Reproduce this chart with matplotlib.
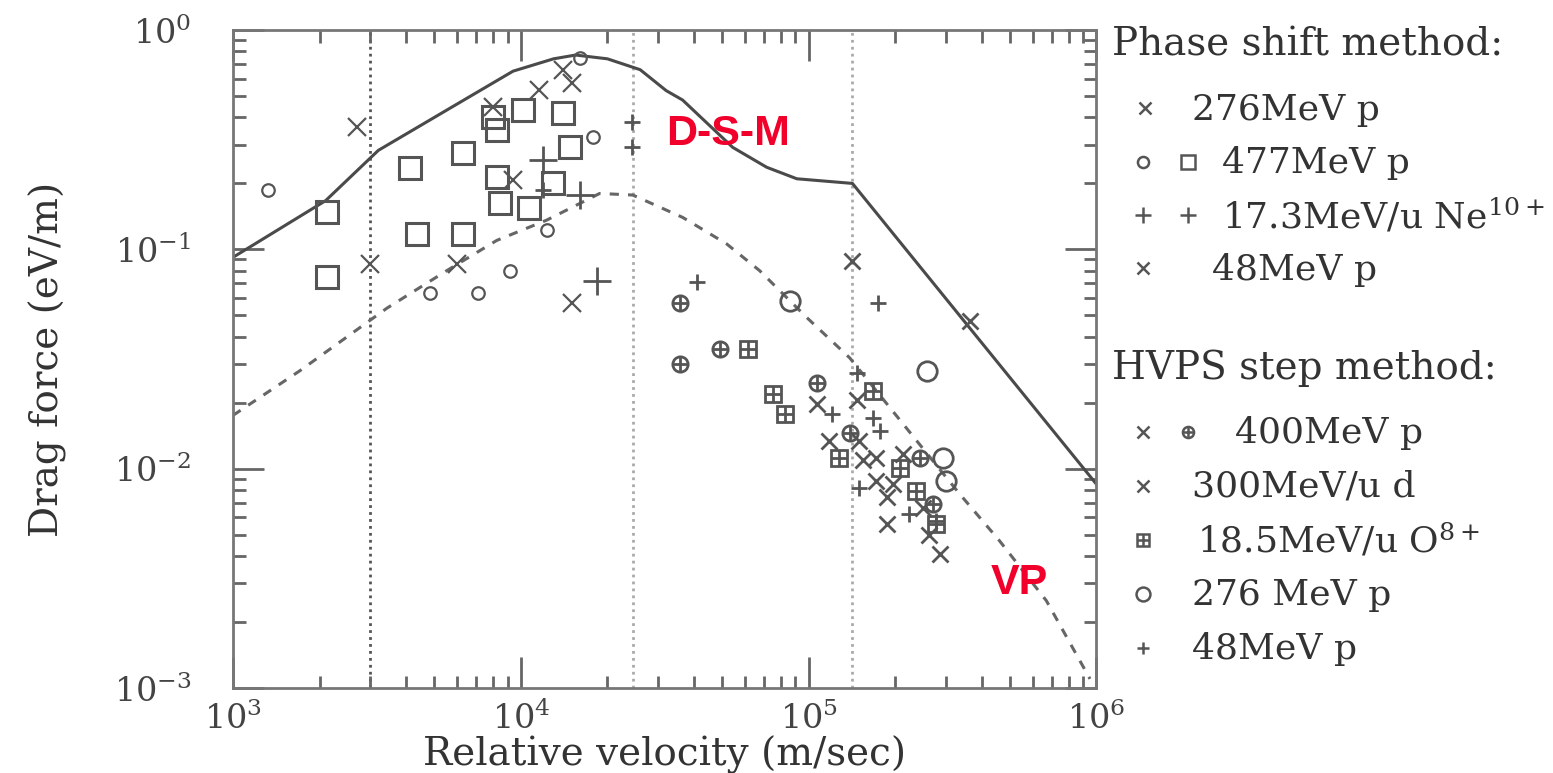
import numpy as np
import matplotlib.pyplot as plt
from matplotlib.ticker import LogLocator, NullFormatter

plt.rcParams['font.family'] = ['DejaVu Serif']
plt.rcParams['mathtext.fontset'] = 'dejavuserif'

# theory curves (velocity m/s, drag force eV/m)
dsm_v = [1e3, 2.1e3, 3.2e3, 5.5e3, 9.4e3, 1.3e4, 1.55e4, 2.0e4, 2.6e4, 3.2e4,
         3.65e4, 5.45e4, 7.15e4, 9.1e4, 1.42e5, 1e6]
dsm_f = [0.092, 0.167, 0.283, 0.43, 0.65, 0.74, 0.77, 0.74, 0.66, 0.53,
         0.48, 0.292, 0.237, 0.21, 0.20, 0.0085]
vp_v = [1e3, 1.71e3, 3.43e3, 5.53e3, 8.26e3, 1.23e4, 1.88e4, 2.45e4, 3.65e4,
        5.19e4, 6.76e4, 9.84e4, 1.39e5, 3.34e5, 4.6e5, 6.7e5, 9.5e5]
vp_f = [0.0175, 0.028, 0.054, 0.080, 0.11, 0.136, 0.18, 0.177, 0.14,
        0.106, 0.080, 0.049, 0.032, 0.0077, 0.0047, 0.0025, 0.0011]
vlines = [3e3, 2.45e4, 1.42e5]

# phase shift method
ps276_v = [2.7e3, 8.0e3, 9.4e3, 1.16e4, 1.4e4, 1.51e4]
ps276_f = [0.36, 0.445, 0.207, 0.532, 0.656, 0.573]
ps477d_v = [1.32e3, 4.83e3, 7.1e3, 9.2e3, 1.23e4, 1.78e4, 1.6e4]
ps477d_f = [0.186, 0.063, 0.063, 0.08, 0.122, 0.325, 0.75]
ps477s_v = [2.12e3, 2.12e3, 4.12e3, 4.35e3, 6.3e3, 6.3e3, 8.0e3, 1.02e4, 1.4e4,
            1.48e4, 8.26e3, 1.29e4, 8.45e3, 1.07e4, 8.26e3]
ps477s_f = [0.148, 0.0745, 0.234, 0.118, 0.118, 0.274, 0.40, 0.431, 0.418,
            0.292, 0.213, 0.20, 0.162, 0.155, 0.35]
ne_small_v = [2.43e4, 2.43e4, 1.19e4]
ne_small_f = [0.38, 0.292, 0.186]
ne_big_v = [1.84e4, 1.19e4, 1.6e4]
ne_big_f = [0.072, 0.255, 0.177]
ps48_v = [2.99e3, 6.0e3, 1.51e4]
ps48_f = [0.086, 0.086, 0.057]

# HVPS step method
h400x_v = [1.07e5, 1.5e5, 2.12e5, 1.72e5, 2.49e5, 1.87e5, 2.85e5, 1.72e5]
h400x_f = [0.0198, 0.0134, 0.0117, 0.0088, 0.0066, 0.0056, 0.0041, 0.0112]
h400o_v = [3.57e4, 3.57e4, 4.91e4, 1.07e5, 1.39e5, 2.43e5, 2.7e5]
h400o_f = [0.057, 0.030, 0.035, 0.0247, 0.0145, 0.0112, 0.0069]
h300_v = [1.42e5, 1.47e5, 1.18e5, 1.54e5, 1.96e5, 1.87e5, 2.63e5, 3.63e5]
h300_f = [0.089, 0.0205, 0.0134, 0.0109, 0.0085, 0.0074, 0.0050, 0.047]
hO8_v = [6.14e4, 7.5e4, 1.67e5, 1.28e5, 2.07e5, 2.78e5, 2.37e5, 8.26e4]
hO8_f = [0.035, 0.022, 0.0227, 0.0112, 0.0101, 0.0056, 0.0079, 0.0178]
h276_v = [8.59e4, 2.57e5, 3.01e5, 2.92e5]
h276_f = [0.058, 0.028, 0.0088, 0.0112]
h48_v = [1.74e5, 4.08e4, 1.47e5, 1.77e5, 1.5e5, 1.21e5, 2.24e5, 1.67e5, 2.78e5]
h48_f = [0.057, 0.071, 0.0272, 0.0149, 0.0082, 0.0178, 0.0062, 0.0171, 0.0058]

fig = plt.figure(figsize=(15.53, 7.73), dpi=100)
ax = fig.add_axes([0.150, 0.110, 0.556, 0.851])
ax.set_xscale('log')
ax.set_yscale('log')
ax.set_xlim(1e3, 1e6)
ax.set_ylim(1e-3, 1)

lc = '#4a4a4a'
mc = '#555555'
for v, c in zip(vlines, ['#555555', '#aaaaaa', '#aaaaaa']):
    ax.axvline(v, color=c, lw=2, ls=(0, (1, 1.5)), zorder=1)
ax.plot(dsm_v, dsm_f, color=lc, lw=2.2, zorder=2)
ax.plot(vp_v, vp_f, color='#666666', lw=2.2, ls=(0, (3, 3)), zorder=2)

def pts(v, f, m, ms, mew=1.6, color=mc):
    ax.plot(v, f, ls='none', marker=m, ms=ms, mfc='none', mec=color, mew=mew, zorder=3)

pts(ps276_v, ps276_f, 'x', 13)
pts(ps48_v, ps48_f, 'x', 13)
pts(ps477d_v, ps477d_f, 'o', 9)
pts(ps477s_v, ps477s_f, 's', 16, mew=2.2)
pts(ne_small_v, ne_small_f, '+', 12, mew=2)
pts(ne_big_v, ne_big_f, '+', 20, mew=2)
pts(h400x_v, h400x_f, 'x', 11, mew=2)
pts(h400o_v, h400o_f, 'o', 11, mew=2)
pts(h400o_v, h400o_f, '+', 12, mew=2)
pts(h300_v, h300_f, 'x', 11, mew=2)
pts(hO8_v, hO8_f, 's', 11, mew=2)
pts(hO8_v, hO8_f, '+', 11, mew=2)
pts(h276_v, h276_f, 'o', 14, mew=2)
pts(h48_v, h48_f, '+', 12, mew=2)

ax.text(5.24e4, 0.335, 'D-S-M', color='#f0002a', fontsize=31, fontweight='bold',
        family='Liberation Sans', ha='center', va='center')
ax.text(5.4e5, 3.0e-3, 'VP', color='#f0002a', fontsize=31, fontweight='bold',
        family='Liberation Sans', ha='center', va='center')

for s in ax.spines.values():
    s.set_color('#777777')
    s.set_linewidth(2)
ax.xaxis.set_minor_locator(LogLocator(base=10, subs=np.arange(2, 10)))
ax.yaxis.set_minor_locator(LogLocator(base=10, subs=np.arange(2, 10)))
ax.xaxis.set_minor_formatter(NullFormatter())
ax.yaxis.set_minor_formatter(NullFormatter())
ax.tick_params(which='both', direction='in', top=True, right=True, colors='#666666',
               labelcolor='#444444', labelsize=24, width=2)
ax.tick_params(which='major', length=22, pad=10)
ax.tick_params(axis='y', which='major', pad=30)
ax.tick_params(which='minor', length=9)
for t in ax.yaxis.get_major_ticks():
    if abs(t.get_loc() - 1e-2) < 1e-6:
        t.tick1line.set_color('#d04a60')
        t.tick2line.set_color('#d04a60')

ax.set_xlabel('Relative velocity (m/sec)', fontsize=28, color='#333333', labelpad=0)
ax.set_ylabel('Drag force (eV/m)', fontsize=28, color='#333333', labelpad=34)

# legend panel on the right
lax = fig.add_axes([0, 0, 1, 1])
lax.axis('off')
lax.set_xlim(0, 1553)
lax.set_ylim(773, 0)
tc = '#333333'
fs = 26

def lm(x, y, m, ms, mew=1.8):
    lax.plot([x], [y], ls='none', marker=m, ms=ms, mfc='none', mec=mc, mew=mew)

lax.text(1112, 45, 'Phase shift method:', fontsize=fs + 2, color=tc, va='center')
lm(1145, 108, 'x', 9)
lax.text(1192, 110, '276MeV p', fontsize=fs, color=tc, va='center')
lm(1143, 162, 'o', 8)
lm(1188, 162, 's', 10)
lax.text(1222, 163, '477MeV p', fontsize=fs, color=tc, va='center')
lm(1143, 215, '+', 11)
lm(1188, 215, '+', 11)
lax.text(1222, 216, r'17.3MeV/u Ne$^{10+}$', fontsize=fs, color=tc, va='center')
lm(1143, 268, 'x', 9)
lax.text(1212, 270, '48MeV p', fontsize=fs, color=tc, va='center')

lax.text(1112, 368, 'HVPS step method:', fontsize=fs + 2, color=tc, va='center')
lm(1143, 432, 'x', 9)
lm(1188, 432, 'o', 8)
lm(1188, 432, '+', 9)
lax.text(1235, 433, '400MeV p', fontsize=fs, color=tc, va='center')
lm(1143, 486, 'x', 9)
lax.text(1192, 487, '300MeV/u d', fontsize=fs, color=tc, va='center')
lm(1143, 540, 's', 8)
lm(1143, 540, '+', 8)
lax.text(1197, 541, r'18.5MeV/u O$^{8+}$', fontsize=fs, color=tc, va='center')
lm(1143, 594, 'o', 10)
lax.text(1192, 595, '276 MeV p', fontsize=fs, color=tc, va='center')
lm(1143, 648, '+', 9)
lax.text(1192, 649, '48MeV p', fontsize=fs, color=tc, va='center')

fig.savefig('out.png', dpi=100, facecolor='white')
